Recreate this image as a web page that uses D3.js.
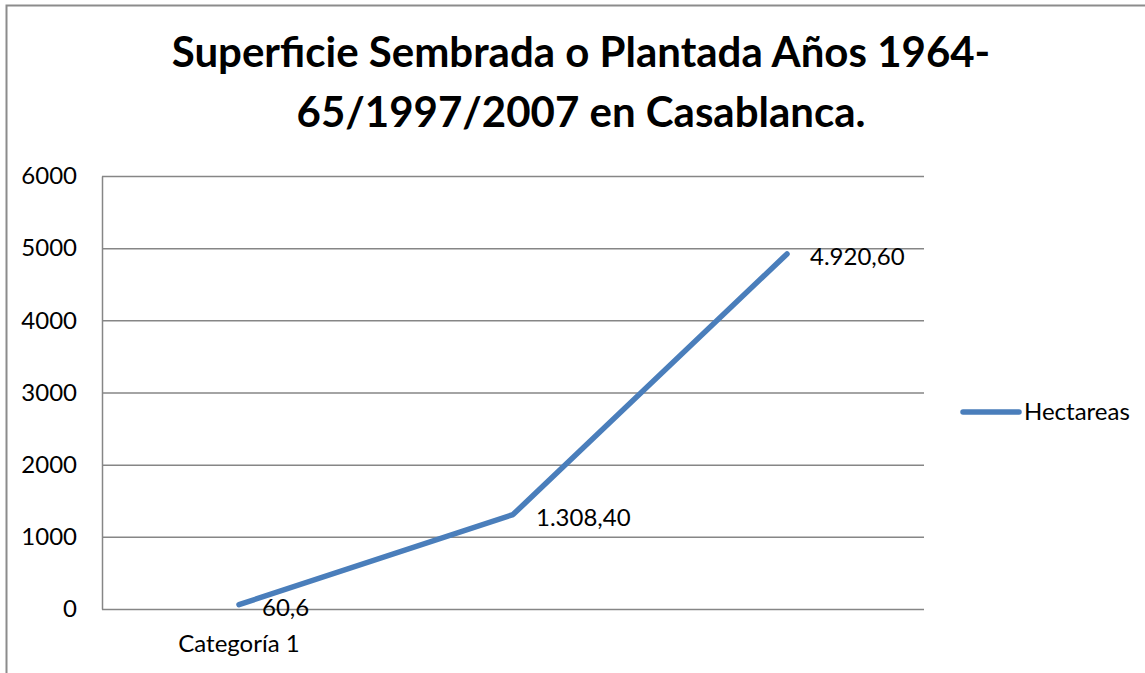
<!DOCTYPE html>
<html>
<head>
<meta charset="utf-8">
<script src="https://cdn.jsdelivr.net/npm/d3@7"></script>
<style>
  body { margin: 0; background: #fff; }
  svg text { font-family: Lato, "Open Sans", sans-serif; fill: #000; }
</style>
</head>
<body>
<div id="canvas"></div>
<script>
// chart data
var categories = ["Categoría 1", "", ""];
var hectareas = [60.6, 1308.4, 4920.6];
var pointLabels = ["60,6", "1.308,40", "4.920,60"];
var yTicks = [0, 1000, 2000, 3000, 4000, 5000, 6000];
var seriesName = "Hectareas";
var titleLines = ["Superficie Sembrada o Plantada Años 1964-", "65/1997/2007 en Casablanca."];

var width = 1145;
var height = 673;
var plotLeft = 102, plotRight = 924, plotTop = 176, plotBottom = 609;

var svg = d3.select("#canvas").append("svg")
	.attr("width", width)
	.attr("height", height);

// outer frame (runs off the right and bottom edge)
svg.append("rect")
	.attr("x", 6.5).attr("y", 5.5)
	.attr("width", 1200).attr("height", 800)
	.style("fill", "none")
	.style("stroke", "#8c8c8c")
	.style("stroke-width", 2);

var x = d3.scaleBand()
	.domain(d3.range(categories.length))
	.range([plotLeft, plotRight]);

var y = d3.scaleLinear()
	.domain([0, 6000])
	.range([plotBottom, plotTop]);

// gridlines
svg.append("g")
	.attr("transform", "translate(" + plotLeft + ",0)")
	.call(d3.axisLeft(y).tickValues(yTicks).tickSize(-(plotRight - plotLeft)).tickFormat(""))
	.call(function(g){
		g.select(".domain").remove();
		g.selectAll("line").style("stroke", "#868686").style("stroke-width", 1.5);
	});

// vertical axis line + labels
var yAxis = svg.append("g")
	.attr("transform", "translate(" + plotLeft + ",0)")
	.call(d3.axisLeft(y).tickValues(yTicks).tickSize(0).tickPadding(25).tickFormat(d3.format("d")));
yAxis.select(".domain").style("stroke", "#868686").style("stroke-width", 1.5);
yAxis.selectAll("text").style("font-size", "24px").style("font-family", "Lato").style("fill", "#000");

// category axis labels
var xAxis = svg.append("g")
	.attr("transform", "translate(0," + plotBottom + ")")
	.call(d3.axisBottom(x).tickSize(0).tickPadding(26).tickFormat(function(i){ return categories[i]; }));
xAxis.select(".domain").remove();
xAxis.selectAll("text").style("font-size", "24px").style("font-family", "Lato").style("fill", "#000");

// series line
var line = d3.line()
	.x(function(d, i){ return x(i) + x.bandwidth() / 2; })
	.y(function(d){ return y(d); });

svg.append("path")
	.datum(hectareas)
	.attr("d", line)
	.style("fill", "none")
	.style("stroke", "#4a7ebb")
	.style("stroke-width", 5.5)
	.style("stroke-linecap", "round")
	.style("stroke-linejoin", "round");

// data labels
svg.selectAll(".lbl")
	.data(hectareas)
	.enter()
	.append("text")
	.attr("class", "lbl")
	.attr("x", function(d, i){ return x(i) + x.bandwidth() / 2 + 23; })
	.attr("y", function(d){ return y(d) + 3; })
	.attr("dy", "0.35em")
	.style("font-size", "24px")
	.text(function(d, i){ return pointLabels[i]; });

// title
svg.append("text")
	.attr("x", 581)
	.attr("text-anchor", "middle")
	.style("font-size", "42px")
	.style("font-weight", "bold")
	.selectAll("tspan")
	.data(titleLines)
	.enter()
	.append("tspan")
	.attr("x", 581)
	.attr("y", function(d, i){ return 67 + i * 60; })
	.text(function(d){ return d; });

// legend
var legend = svg.append("g").attr("transform", "translate(963,412)");
legend.append("line")
	.attr("x1", 0).attr("x2", 56)
	.style("stroke", "#4a7ebb")
	.style("stroke-width", 5.5)
	.style("stroke-linecap", "round");
legend.append("text")
	.attr("x", 61)
	.attr("dy", "0.35em")
	.style("font-size", "24px")
	.text(seriesName);
</script>
</body>
</html>
